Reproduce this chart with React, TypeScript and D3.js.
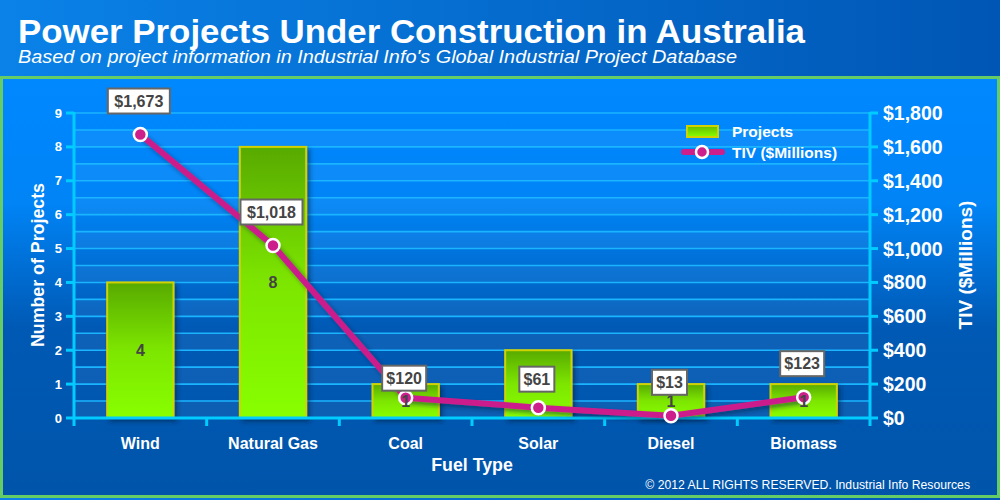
import * as d3 from "d3"

const categories = ["Wind", "Natural Gas", "Coal", "Solar", "Diesel", "Biomass"]
const projects = [4, 8, 1, 2, 1, 1]
const tiv = [1673, 1018, 120, 61, 13, 123]
const leftTicks = [0, 1, 2, 3, 4, 5, 6, 7, 8, 9]
const rightTicks = [0, 200, 400, 600, 800, 1000, 1200, 1400, 1600, 1800]

const W = 1000
const H = 500
const plot = { left: 74, right: 870, top: 113, bottom: 418 }
const font = "Liberation Sans, Arial, sans-serif"

export default function App() {
  const x = d3
    .scaleBand<string>()
    .domain(categories)
    .range([plot.left, plot.right])
    .paddingInner(0.5)
    .paddingOuter(0.25)
  const step = x.step()
  const yLeft = d3.scaleLinear().domain([0, 9]).range([plot.bottom, plot.top])
  const yRight = d3.scaleLinear().domain([0, 1800]).range([plot.bottom, plot.top])

  const cx = (c: string) => (x(c) || 0) + x.bandwidth() / 2

  // half-unit grid lines and stripes
  const halfSteps = d3.range(0, 9.01, 0.5)

  const line = d3
    .line<number>()
    .x((_, i) => cx(categories[i]))
    .y((d) => yRight(d))

  // small nudges for labels that sit lower in the original
  const labelShift: Record<string, number> = { Coal: 14, Solar: 5 }

  return (
    <div style={{ position: "absolute", left: 0, top: 0 }}>
      <svg width={W} height={H} style={{ display: "block", fontFamily: font }}>
        <defs>
          <linearGradient id="hdr" x1="0" y1="0" x2="1" y2="0">
            <stop offset="0" stopColor="#0a82e8" />
            <stop offset="1" stopColor="#0056b4" />
          </linearGradient>
          <linearGradient id="panel" x1="0" y1="0" x2="0" y2="1">
            <stop offset="0" stopColor="#0088ff" />
            <stop offset="0.3" stopColor="#0084f6" />
            <stop offset="0.6" stopColor="#0059b4" />
            <stop offset="1" stopColor="#0055aa" />
          </linearGradient>
          <linearGradient id="bar" x1="0" y1="0" x2="0" y2="1">
            <stop offset="0" stopColor="#58aa00" />
            <stop offset="0.5" stopColor="#7de600" />
            <stop offset="1" stopColor="#88ff00" />
          </linearGradient>
          <linearGradient id="legbar" x1="0" y1="0" x2="0" y2="1">
            <stop offset="0" stopColor="#66bb00" />
            <stop offset="1" stopColor="#88ff00" />
          </linearGradient>
          <filter id="shadow" x="-20%" y="-20%" width="140%" height="140%">
            <feDropShadow dx="3" dy="3" stdDeviation="2" floodColor="#001a40" floodOpacity="0.5" />
          </filter>
        </defs>

        {/* background */}
        <rect x={0} y={0} width={W} height={H} fill="url(#hdr)" />
        <text x={18} y={43} fill="#fff" fontSize={34} fontWeight="bold" textLength={787} lengthAdjust="spacingAndGlyphs">
          Power Projects Under Construction in Australia
        </text>
        <text
          x={18}
          y={63}
          fill="#fff"
          fontSize={19}
          fontStyle="italic"
          textLength={719}
          lengthAdjust="spacingAndGlyphs"
        >
          Based on project information in Industrial Info's Global Industrial Project Database
        </text>
        <rect x={1.5} y={77.5} width={997} height={419} fill="url(#panel)" stroke="#66cc66" strokeWidth={3} />

        {/* stripes */}
        {halfSteps.slice(0, -1).map((v, i) => (
          <rect
            key={"s" + v}
            x={plot.left}
            y={yLeft(v + 0.5)}
            width={plot.right - plot.left}
            height={yLeft(v) - yLeft(v + 0.5)}
            fill="#ffffff"
            opacity={i % 2 === 0 ? 0.05 : 0}
          />
        ))}

        {/* grid */}
        {halfSteps.slice(1).map((v) => (
          <line
            key={"g" + v}
            x1={plot.left}
            x2={plot.right}
            y1={yLeft(v)}
            y2={yLeft(v)}
            stroke="#1ab4ff"
            strokeWidth={1.6}
          />
        ))}

        {/* bars */}
        {categories.map((c, i) => (
          <rect
            key={"b" + c}
            x={x(c)}
            y={yLeft(projects[i])}
            width={x.bandwidth()}
            height={plot.bottom - yLeft(projects[i])}
            fill="url(#bar)"
            stroke="#d2d200"
            strokeWidth={2}
            filter="url(#shadow)"
          />
        ))}

        {/* axes */}
        <g stroke="#00ccff" strokeWidth={3} fill="none">
          <line x1={plot.left} x2={plot.left} y1={plot.top - 1} y2={plot.bottom + 8} />
          <line x1={plot.right} x2={plot.right} y1={plot.top - 1} y2={plot.bottom + 8} />
          <line x1={plot.left} x2={plot.right} y1={plot.bottom} y2={plot.bottom} />
          {leftTicks.map((t) => (
            <line key={"lt" + t} x1={plot.left - 8} x2={plot.left} y1={yLeft(t)} y2={yLeft(t)} />
          ))}
          {rightTicks.map((t) => (
            <line key={"rt" + t} x1={plot.right} x2={plot.right + 8} y1={yRight(t)} y2={yRight(t)} />
          ))}
          {d3.range(1, categories.length).map((k) => (
            <line
              key={"bt" + k}
              x1={plot.left + k * step}
              x2={plot.left + k * step}
              y1={plot.bottom}
              y2={plot.bottom + 8}
            />
          ))}
        </g>

        {/* axis labels */}
        {leftTicks.map((t) => (
          <text
            key={"ll" + t}
            x={plot.left - 12}
            y={yLeft(t)}
            dy="0.35em"
            textAnchor="end"
            fill="#fff"
            fontSize={13}
            fontWeight="bold"
          >
            {t}
          </text>
        ))}
        {rightTicks.map((t) => (
          <text
            key={"rl" + t}
            x={plot.right + 13}
            y={yRight(t)}
            dy="0.36em"
            fill="#fff"
            fontSize={19.5}
            fontWeight="bold"
          >
            {"$" + d3.format(",")(t)}
          </text>
        ))}
        {categories.map((c) => (
          <text
            key={"xl" + c}
            x={cx(c)}
            y={443}
            dy="0.35em"
            textAnchor="middle"
            fill="#fff"
            fontSize={16}
            fontWeight="bold"
          >
            {c}
          </text>
        ))}
        <text x={472} y={465} dy="0.35em" textAnchor="middle" fill="#fff" fontSize={17.8} fontWeight="bold">
          Fuel Type
        </text>
        <text
          transform={`translate(38, 265) rotate(-90)`}
          dy="0.35em"
          textAnchor="middle"
          fill="#fff"
          fontSize={17.8}
          fontWeight="bold"
        >
          Number of Projects
        </text>
        <text
          transform={`translate(965, 265) rotate(-90)`}
          dy="0.35em"
          textAnchor="middle"
          fill="#fff"
          fontSize={19}
          fontWeight="bold"
        >
          TIV ($Millions)
        </text>
        <text x={970} y={489} textAnchor="end" fill="#fff" fontSize={12.2}>
          © 2012 ALL RIGHTS RESERVED. Industrial Info Resources
        </text>

        {/* TIV line */}
        <path
          d={line(tiv) || ""}
          fill="none"
          stroke="#cc1f8c"
          strokeWidth={6}
          strokeLinejoin="round"
          filter="url(#shadow)"
        />
        {tiv.map((v, i) => (
          <circle
            key={"p" + i}
            cx={cx(categories[i])}
            cy={yRight(v)}
            r={6.5}
            fill="#cc1f8c"
            stroke="#fff"
            strokeWidth={2.5}
          />
        ))}

        {/* bar value labels */}
        {categories.map((c, i) => (
          <text
            key={"bv" + c}
            x={cx(c)}
            y={(yLeft(projects[i]) + plot.bottom) / 2}
            dy="0.35em"
            textAnchor="middle"
            fill="#444"
            fontSize={16}
            fontWeight="bold"
          >
            {projects[i]}
          </text>
        ))}

        {/* TIV value labels */}
        {tiv.map((v, i) => {
          const c = categories[i]
          const label = "$" + d3.format(",")(v)
          const w = label.length * 9 + 8
          const ly = yRight(v) - 34 + (labelShift[c] || 0)
          return (
            <g key={"tl" + c} transform={`translate(${cx(c) - 1.5}, ${ly})`}>
              <rect x={-w / 2} y={-12} width={w} height={25} fill="#fff" stroke="#666" strokeWidth={2} />
              <text dy="0.36em" y={0.5} textAnchor="middle" fill="#444" fontSize={16} fontWeight="bold">
                {label}
              </text>
            </g>
          )
        })}

        {/* legend */}
        <rect x={687} y={126} width={31} height={11} fill="url(#legbar)" stroke="#d2d200" strokeWidth={2} />
        <text x={732} y={132} dy="0.35em" fill="#fff" fontSize={15.5} fontWeight="bold">
          Projects
        </text>
        <line x1={684} x2={722} y1={152} y2={152} stroke="#cc1f8c" strokeWidth={6} strokeLinecap="round" />
        <circle cx={702} cy={152} r={6} fill="#cc1f8c" stroke="#fff" strokeWidth={2.5} />
        <text x={732} y={153} dy="0.35em" fill="#fff" fontSize={15.5} fontWeight="bold">
          TIV ($Millions)
        </text>
      </svg>
    </div>
  )
}
